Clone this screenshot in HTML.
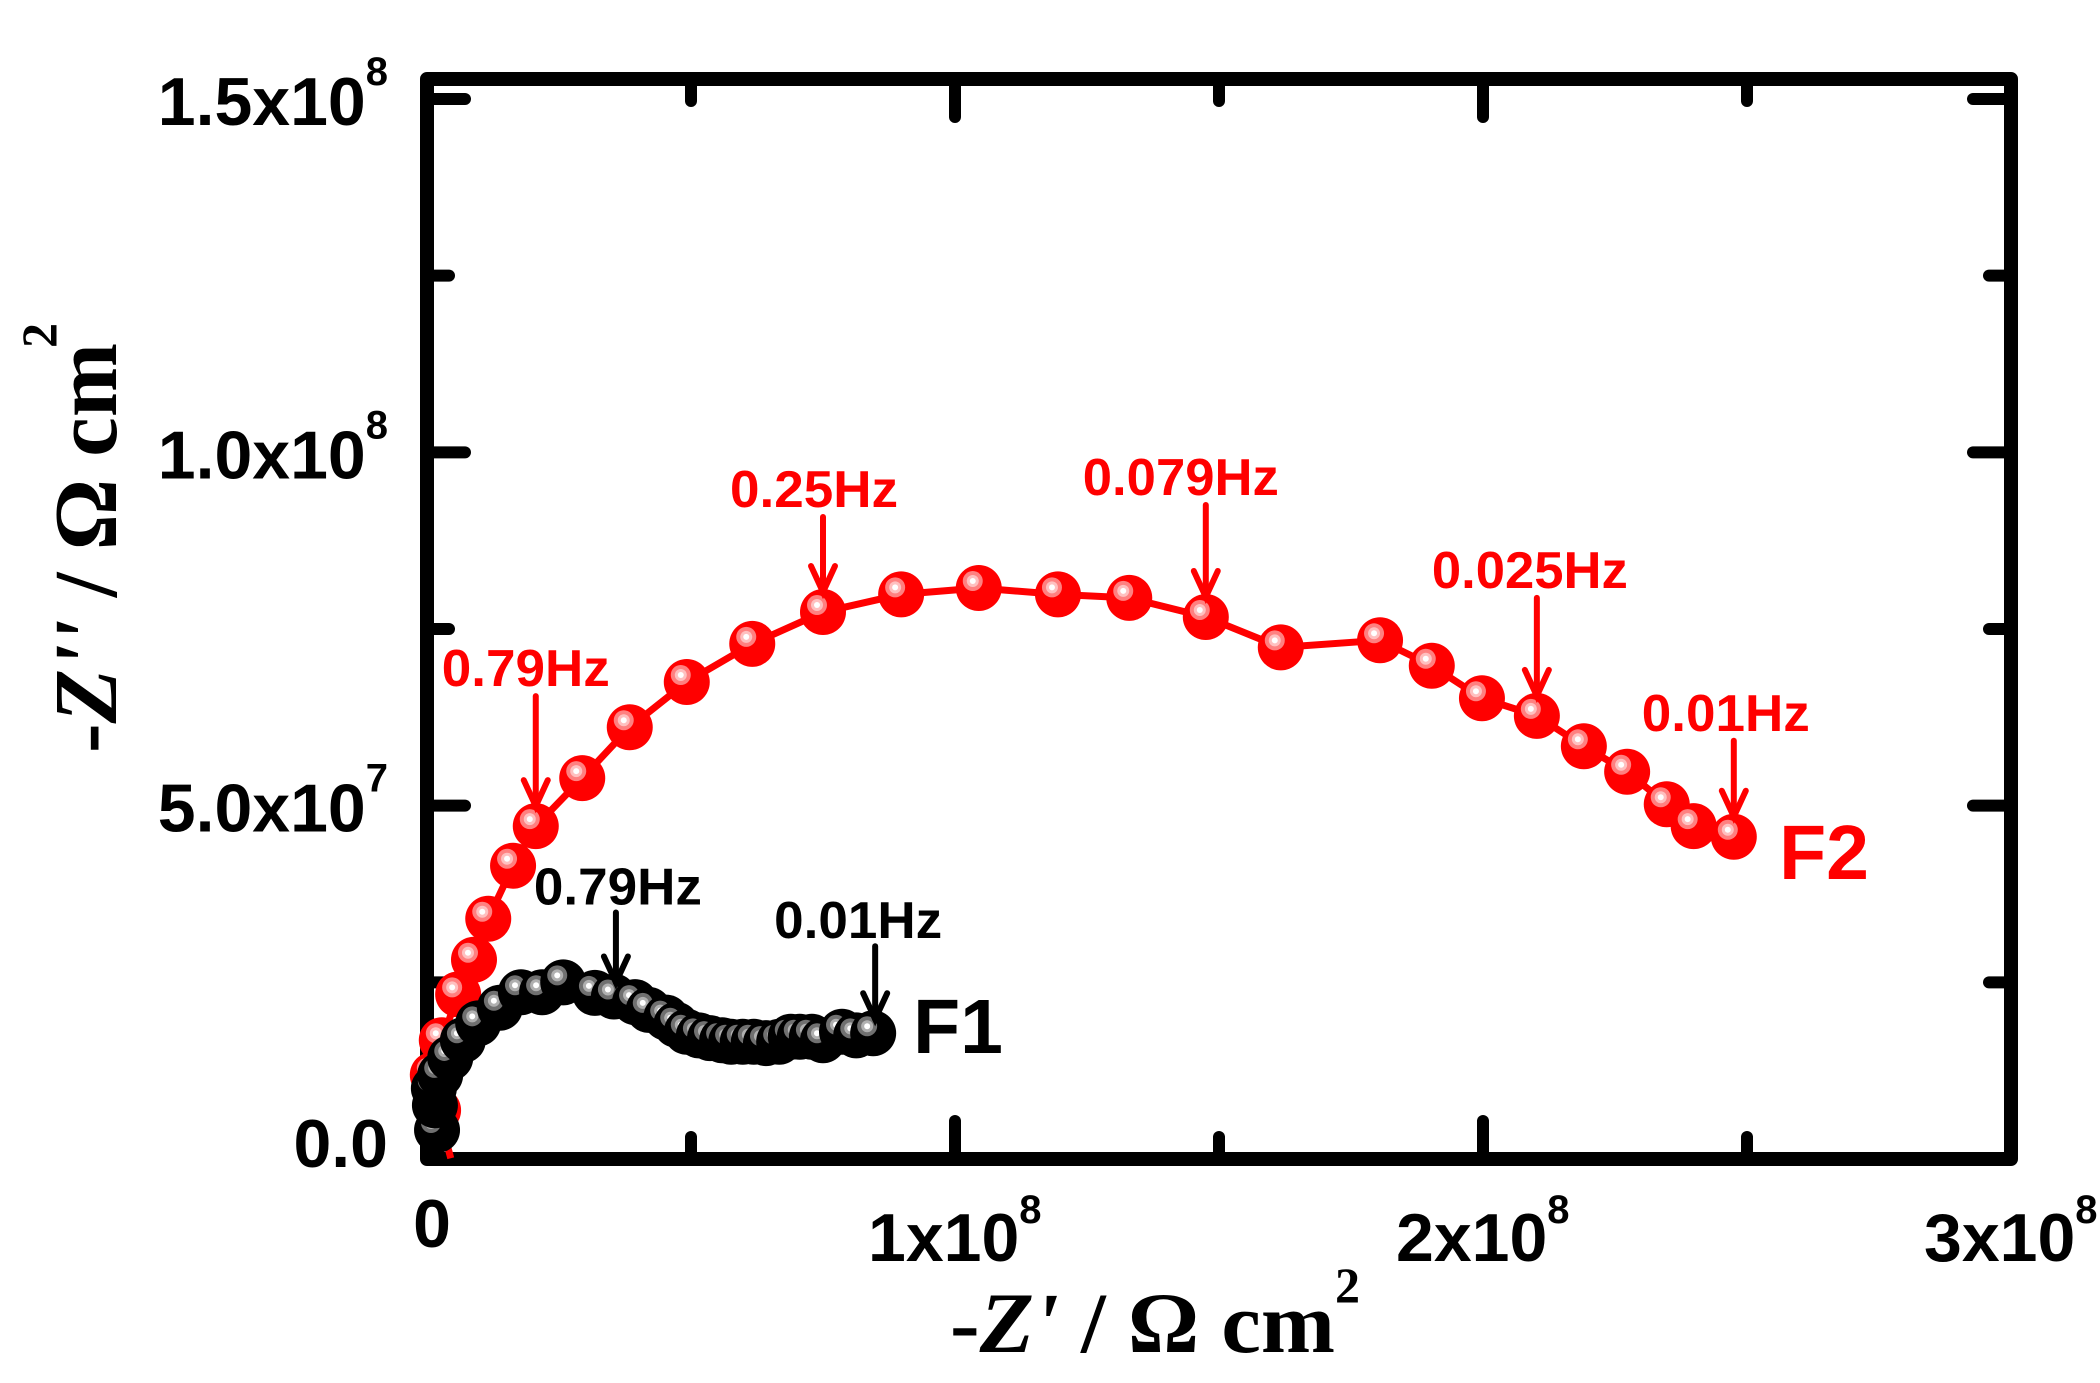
<!DOCTYPE html>
<html><head><meta charset="utf-8"><style>html,body{margin:0;padding:0;background:#fff}svg{display:block}</style></head>
<body>
<svg id="chart" width="2100" height="1383" viewBox="0 0 2100 1383" xmlns="http://www.w3.org/2000/svg" font-family="'Liberation Sans', sans-serif">
<g id="axes"></g>
<g id="series"></g>
<g id="annot"></g>
<text x="950" y="1352" font-family="'Liberation Serif', serif" font-weight="bold" font-size="86" textLength="385" lengthAdjust="spacingAndGlyphs">-<tspan font-style="italic">Z'</tspan> / Ω cm</text>
<text x="1335" y="1302" font-family="'Liberation Serif', serif" font-weight="bold" font-size="50">2</text>
<g transform="translate(116,753) rotate(-90)">
<text x="0" y="0" font-family="'Liberation Serif', serif" font-weight="bold" font-size="90" textLength="410" lengthAdjust="spacingAndGlyphs">-<tspan font-style="italic">Z''</tspan> / Ω cm</text>
<text x="405" y="-60" font-family="'Liberation Serif', serif" font-weight="bold" font-size="50">2</text>
</g>
</svg>
<script>
const NS='http://www.w3.org/2000/svg';
// data (x, y in 1e6 Ω cm²)
const f2X=[4.5,2.1,1.1,2.8,5.9,8.9,11.6,16.3,20.6,29.4,38.4,49.2,61.6,75.0,89.8,104.5,119.5,133.0,147.5,161.7,180.5,190.3,199.8,210.2,219.1,227.3,234.8,239.9,247.5];
const f2Y=[0.1,6.9,11.9,16.8,23.3,28.2,34.0,41.5,47.1,53.9,61.1,67.5,72.9,77.4,79.9,80.8,79.9,79.4,76.7,72.4,73.4,69.8,65.2,62.7,58.4,54.8,50.2,47.1,45.6];
const f1X=[2.7,1.9,1.5,1.3,2.5,4.4,6.8,9.7,13.8,17.8,21.8,25.8,31.8,35.4,39.4,42.0,45.3,47.2,49.2,51.5,53.6,55.9,57.6,59.8,61.9,64.2,66.7,68.9,70.6,72.9,75.0,78.6,81.3,84.5];
const f1Y=[1.0,4.1,7.6,10.0,11.9,14.3,16.8,19.2,21.4,23.6,23.6,25.0,23.5,23.0,22.2,21.1,20.0,19.0,18.0,17.5,17.1,16.8,16.6,16.6,16.6,16.4,16.6,17.3,17.3,17.3,16.8,18.0,17.5,17.8];
const xMajor=[0,100,200,300];
const xMinor=[50,150,250];
const xTickLabels=['0','1x10','2x10','3x10'];
const xTickSups=['','8','8','8'];
const yMajor=[0,50,100,150];
const yMinor=[25,75,125];
const yTickLabels=['0.0','5.0x10','1.0x10','1.5x10'];
const yTickSups=['','7','8','8'];
const f2AnnIdx=[8,13,18,23,28];
const f2AnnText=['0.79Hz','0.25Hz','0.079Hz','0.025Hz','0.01Hz'];
const f1AnnIdx=[13,33];
const f1AnnText=['0.79Hz','0.01Hz'];
// label layout offsets (dx, dy above point) — layout only
const f2Lay=[[-10,140],[-9,105],[-25,122],[-7,128],[-8,106]];
const f1Lay=[[4,92],[-15,95]];

const X0=427,X1=2011,Y0=1159,YT=79;
const sx=v=>X0+v*(X1-X0)/300;
const sy=v=>Y0-v*(Y0-99)/150;
function el(t,a,p){const e=document.createElementNS(NS,t);for(const k in a)e.setAttribute(k,a[k]);p.appendChild(e);return e;}
const axes=document.getElementById('axes'),ser=document.getElementById('series'),ann=document.getElementById('annot');
const fr=el('rect',{x:X0,y:YT,width:X1-X0,height:Y0-YT,fill:'none',stroke:'#000','stroke-width':14,'stroke-linejoin':'round'},axes);


function tick(x1,y1,x2,y2,name){const t=el('line',{x1,y1,x2,y2,stroke:'#000','stroke-width':12,'stroke-linecap':'round'},axes);

}
xMajor.forEach(v=>{tick(sx(v),Y0,sx(v),Y0-38,'x-major-tick');tick(sx(v),YT,sx(v),YT+38,'top-major-tick');});
xMinor.forEach(v=>{tick(sx(v),Y0,sx(v),Y0-22,'x-minor-tick');tick(sx(v),YT,sx(v),YT+22,'top-minor-tick');});
yMajor.forEach(v=>{tick(X0,sy(v),X0+38,sy(v),'y-major-tick');tick(X1,sy(v),X1-38,sy(v),'right-major-tick');});
yMinor.forEach(v=>{tick(X0,sy(v),X0+22,sy(v),'y-minor-tick');tick(X1,sy(v),X1-22,sy(v),'right-minor-tick');});
xMajor.forEach((v,i)=>{
  const t=el('text',{'font-weight':'bold','font-size':68},axes);
  
  
  if(i===0){t.setAttribute('x',sx(v)+5);t.setAttribute('y',1247);t.setAttribute('text-anchor','middle');t.textContent=xTickLabels[i];}
  else{t.setAttribute('x',sx(v)-87);t.setAttribute('y',1261);t.textContent=xTickLabels[i];const s=el('tspan',{dy:-38,'font-size':40},t);s.textContent=xTickSups[i];}
});
yMajor.forEach((v,i)=>{
  const t=el('text',{x:388,y:i===0?1167:sy(v)+26,'text-anchor':'end','font-weight':'bold','font-size':68},axes);
  
  
  t.textContent=yTickLabels[i];
  if(yTickSups[i]){const s=el('tspan',{dy:-40,'font-size':40},t);s.textContent=yTickSups[i];}
});
function series(X,Y,col,hl,mid,name,lw,minY){
  const g=el('g',{},ser);
  
  
  const pl=el('polyline',{points:X.map((x,i)=>sx(x)+','+sy(Y[i])).join(' '),fill:'none',stroke:col,'stroke-width':lw,'stroke-linejoin':'round'},g);
  
  
  X.forEach((x,i)=>{
    if(Y[i]<minY)return;
    const cx=sx(x),cy=sy(Y[i]);
    const b=el('g',{},g);
    
    
    el('circle',{cx,cy,r:23,fill:col},b);
    el('circle',{cx:cx-6,cy:cy-7,r:10,fill:hl},b);
    el('circle',{cx:cx-6,cy:cy-7,r:6,fill:mid},b);
    el('circle',{cx:cx-6,cy:cy-7,r:3,fill:'#fff'},b);
  });
}
series(f2X,f2Y,'#ff0000','#ff8080','#ffc0c0','series-f2',7,5);
series(f1X,f1Y,'#000000','#707070','#b0b0b0','series-f1',5,3);
function arrow(x,yTop,yTip,col,name){
  const g=el('g',{stroke:col,'stroke-width':6,fill:'none','stroke-linecap':'round'},ann);
  
  
  el('line',{x1:x,y1:yTop,x2:x,y2:yTip},g);
  el('polyline',{points:(x-12)+','+(yTip-26)+' '+x+','+yTip+' '+(x+12)+','+(yTip-26)},g);
}
function label(x,y,txt,col,fs,name,len){
  const a={x,y,fill:col,'font-weight':'bold','font-size':fs,'text-anchor':'middle'};
  if(len){a.textLength=len;a.lengthAdjust='spacingAndGlyphs';}
  const t=el('text',a,ann);
  
  
  t.textContent=txt;
}
f2AnnIdx.forEach((i,k)=>{
  const x=sx(f2X[i]),y=sy(f2Y[i]);
  const [dx,dy]=f2Lay[k];
  arrow(x,y-dy+10,y-20,'#ff0000','f2-freq-arrow');
  label(x+dx,y-dy,f2AnnText[k],'#ff0000',52,'f2-freq-label',f2AnnText[k].length*28);
});
f1AnnIdx.forEach((i,k)=>{
  const x=sx(f1X[i]),y=sy(f1Y[i]);
  const [dx,dy]=f1Lay[k];
  arrow(x+2,y-dy+8,y-14,'#000','f1-freq-arrow');
  label(x+dx,y-dy,f1AnnText[k],'#000',52,'f1-freq-label',f1AnnText[k].length*28);
});
label(958,1053,'F1','#000',77,'f1-series-label');
label(1824,879,'F2','#ff0000',77,'f2-series-label');
</script>
</body></html>
